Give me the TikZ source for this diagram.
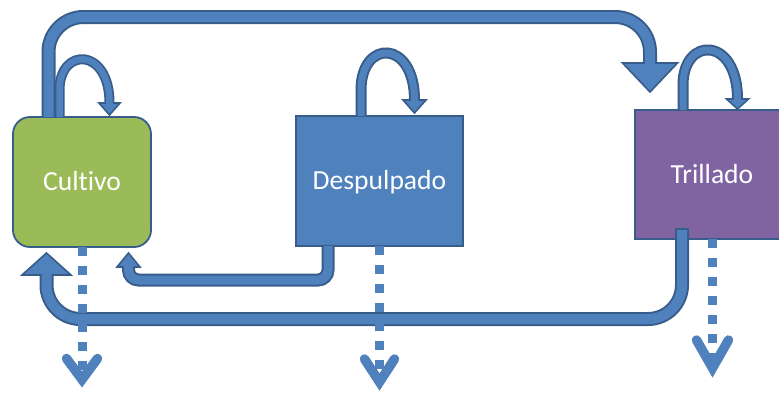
\documentclass[tikz,border=0pt]{standalone}
\usepackage{fontspec}
\setmainfont[Ligatures=NoCommon]{Carlito}
\usetikzlibrary{calc}
\definecolor{blu}{HTML}{4F81BD}
\definecolor{bord}{HTML}{385D8A}
\definecolor{grn}{HTML}{9BBB59}
\definecolor{pur}{HTML}{8064A2}
\begin{document}
\begin{tikzpicture}[x=1pt,y=-1pt,
  box/.style={draw=bord, line width=1.8pt, outer sep=0pt, inner sep=0pt,
    text=white, font=\fontsize{27.6}{30}\selectfont, text height=17pt, text depth=0pt},
  shaftO/.style={draw=bord, line width=#1pt},
  shaftI/.style={draw=blu, line width=#1pt},
  head/.style={fill=blu, draw=bord, line width=1.6pt, line join=miter},
  dotln/.style={draw=blu, line width=9pt, dash pattern=on 8.5pt off 10.5pt},
  vee/.style={draw=blu, line width=9.5pt, line cap=round, line join=miter}]
\useasboundingbox (0,0) rectangle (779,392);
\clip (0,0) rectangle (779,392);

% boxes
\node[box, fill=grn, rounded corners=17pt, minimum width=138pt, minimum height=130pt] (cul) at (82,182) {Cultivo};
\node[box, fill=blu, minimum width=167pt, minimum height=130pt] (des) at (379.5,181) {Despulpado};
\node[box, fill=pur, minimum width=154pt, minimum height=129pt] (tri) at (712,174.5) {Trillado};

% self loops
\coordinate (cL) at ([xshift=-22.5pt]cul.north);
\coordinate (cH) at (109.5,103);
\draw[shaftO=10] (cL) -- ($(cL)+(0,-27)$) .. controls ($(cL)+(0,-70)$) and ($(cH)+(0,-56)$) .. (cH);
\filldraw[head] ($(cH)+(-10.5,0)$) -- ($(cH)+(10.5,0)$) -- ($(cH)+(0,12)$) -- cycle;
\draw[shaftI=6.5] (cL) -- ($(cL)+(0,-27)$) .. controls ($(cL)+(0,-70)$) and ($(cH)+(0,-56)$) .. (cH) -- ($(cH)+(0,3)$);

\coordinate (dL) at ([xshift=-18.5pt]des.north);
\coordinate (dH) at (414.5,100);
\draw[shaftO=11] (dL) -- ($(dL)+(0,-26)$) .. controls ($(dL)+(0,-77)$) and ($(dH)+(0,-61)$) .. (dH);
\filldraw[head] ($(dH)+(-11.5,0)$) -- ($(dH)+(11.5,0)$) -- ($(dH)+(0,13)$) -- cycle;
\draw[shaftI=7] (dL) -- ($(dL)+(0,-26)$) .. controls ($(dL)+(0,-77)$) and ($(dH)+(0,-61)$) .. (dH) -- ($(dH)+(0,3)$);

\coordinate (tL) at ([xshift=-29pt]tri.north);
\coordinate (tH) at (737.5,99);
\draw[shaftO=11] (tL) -- ($(tL)+(0,-25)$) .. controls ($(tL)+(0,-74)$) and ($(tH)+(0,-63)$) .. (tH);
\filldraw[head] ($(tH)+(-11,0)$) -- ($(tH)+(11,0)$) -- ($(tH)+(0,10)$) -- cycle;
\draw[shaftI=7] (tL) -- ($(tL)+(0,-25)$) .. controls ($(tL)+(0,-74)$) and ($(tH)+(0,-63)$) .. (tH) -- ($(tH)+(0,3)$);

% top arrow Cultivo -> Trillado
\coordinate (aA) at ([xshift=-33.5pt]cul.north);
\coordinate (aB) at (650,17);
\coordinate (aH) at (650,63);
\draw[shaftO=14, rounded corners=35pt] (aA) |- (aB) -- (aH);
\filldraw[head] ($(aH)+(-27.5,0)$) -- ($(aH)+(27.5,0)$) -- ($(aH)+(0,29)$) -- cycle;
\draw[shaftI=10, rounded corners=35pt] (aA) |- (aB) -- ($(aH)+(0,3)$);

% return arrow Despulpado -> Cultivo
\coordinate (rA) at ([xshift=-51.5pt]des.south);
\coordinate (rB) at (128.5,280);
\coordinate (rH) at (128.5,267);
\draw[shaftO=13, rounded corners=10pt] (rA) |- (rB) -- (rH);
\filldraw[head] ($(rH)+(-11.5,0)$) -- ($(rH)+(11.5,0)$) -- ($(rH)+(0,-14)$) -- cycle;
\draw[shaftI=9, rounded corners=10pt] (rA) |- (rB) -- ($(rH)+(0,-3)$);

% big return arrow Trillado -> Cultivo
\coordinate (bA) at ([xshift=-30pt,yshift=9pt]tri.south);
\coordinate (bB) at (46.5,319);
\coordinate (bH) at (46.5,275);
\draw[shaftO=14, rounded corners=34pt] ($(bA)+(0,-2)$) |- (bB) -- (bH);
\filldraw[head] ($(bH)+(-24.5,0)$) -- ($(bH)+(24.5,0)$) -- ($(bH)+(0,-22)$) -- cycle;
\draw[shaftI=10, rounded corners=34pt] (bA) |- (bB) -- ($(bH)+(0,-3)$);

% dotted outputs
\coordinate (cV) at (82,379.5);
\coordinate (dV) at (379.5,382);
\coordinate (tV) at (712.5,368);
\draw[dotln] (cul.south) -- (cV);
\draw[dotln] (des.south) -- (dV);
\draw[dotln] ([xshift=0.5pt]tri.south) -- (tV);
\draw[vee] ($(cV)+(-15.5,-21)$) -- (cV) -- ($(cV)+(15.5,-21)$);
\draw[vee] ($(dV)+(-15,-23)$) -- (dV) -- ($(dV)+(15,-23)$);
\draw[vee] ($(tV)+(-16,-28)$) -- (tV) -- ($(tV)+(16,-28)$);
\end{tikzpicture}
\end{document}
